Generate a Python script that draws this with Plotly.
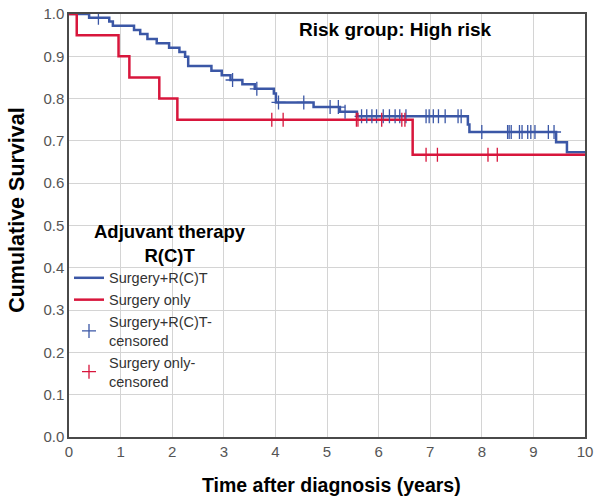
import numpy as np
import plotly.graph_objects as go

# Surgery + R(C)T : Kaplan-Meier step curve
rct_times = [0, 0.39, 0.78, 0.85, 1.26, 1.38, 1.52, 1.70, 1.94, 2.14, 2.25, 2.31, 2.76, 2.96,
             3.13, 3.36, 3.60, 3.97, 4.01, 4.74, 5.25, 5.58, 7.73, 7.76, 9.44, 9.65, 10.0]
rct_surv = [1.0, 0.991, 0.982, 0.972, 0.962, 0.953, 0.941, 0.931, 0.920, 0.910, 0.899, 0.877,
            0.866, 0.855, 0.844, 0.834, 0.823, 0.812, 0.791, 0.780, 0.769, 0.758, 0.739, 0.721,
            0.697, 0.673, 0.673]
rct_censor = [0.57, 3.17, 3.64, 4.06, 4.55, 5.06, 5.22, 5.35, 5.67, 5.77, 5.87, 5.96, 6.09, 6.21,
              6.32, 6.41, 6.53, 6.92, 6.98, 7.06, 7.16, 7.29, 7.54, 7.60, 8.00, 8.50, 8.53, 8.57,
              8.73, 8.78, 8.89, 8.95, 9.03, 9.29, 9.40]

# Surgery only
so_times = [0, 0.15, 0.96, 1.17, 1.75, 2.10, 6.66, 10.0]
so_surv = [1.0, 0.95, 0.90, 0.85, 0.80, 0.75, 0.667, 0.667]
so_censor = [3.93, 4.15, 5.57, 5.60, 6.06, 6.45, 6.51, 6.92, 7.14, 8.12, 8.30]

x_ticks = list(range(0, 11))
y_ticks = [round(i * 0.1, 1) for i in range(0, 11)]

BLUE = "#3b57a6"
RED = "#d8163c"


def surv_at(times, surv, t):
    idx = np.searchsorted(np.array(times), t, side="right") - 1
    return [surv[i] for i in idx]


fig = go.Figure()
fig.add_trace(go.Scatter(x=rct_times, y=rct_surv, mode="lines", line_shape="hv",
                         line=dict(color=BLUE, width=2.5), name="Surgery+R(C)T"))
fig.add_trace(go.Scatter(x=so_times, y=so_surv, mode="lines", line_shape="hv",
                         line=dict(color=RED, width=2.5), name="Surgery only"))
fig.add_trace(go.Scatter(x=rct_censor, y=surv_at(rct_times, rct_surv, rct_censor), mode="markers",
                         marker=dict(symbol="cross-thin", size=10, line=dict(color=BLUE, width=1.3)),
                         name="Surgery+R(C)T-<br>censored"))
fig.add_trace(go.Scatter(x=so_censor, y=surv_at(so_times, so_surv, so_censor), mode="markers",
                         marker=dict(symbol="cross-thin", size=10, line=dict(color=RED, width=1.3)),
                         name="Surgery only-<br>censored"))

FONT = "Liberation Sans, Arial, sans-serif"
fig.update_layout(
    width=595, height=499,
    margin=dict(l=69, r=10, t=14, b=62, autoexpand=False),
    paper_bgcolor="white", plot_bgcolor="white",
    font=dict(family=FONT, color="#333333", size=15),
    xaxis=dict(range=[0, 10], tickvals=x_ticks, ticktext=[str(v) for v in x_ticks],
               showgrid=True, gridcolor="#d4d4d4", gridwidth=1,
               showline=True, linecolor="#4a4a4a", linewidth=1.5, mirror=True,
               ticks="", zeroline=False, tickfont=dict(size=15, color="#555555"),
               automargin=False),
    yaxis=dict(range=[0, 1], tickvals=y_ticks, ticktext=[f"{v:.1f}" for v in y_ticks],
               showgrid=True, gridcolor="#d4d4d4", gridwidth=1,
               showline=True, linecolor="#4a4a4a", linewidth=1.5, mirror=True,
               ticks="", zeroline=False, tickfont=dict(size=15, color="#555555"),
               automargin=False),
    legend=dict(x=0.0, y=0.414, xanchor="left", yanchor="top",
                bgcolor="rgba(0,0,0,0)", font=dict(size=14.5, color="#333333"),
                tracegroupgap=0, itemwidth=30),
    annotations=[
        dict(text="<b>Risk group: High risk</b>", xref="paper", yref="paper",
             x=0.632, y=0.992, xanchor="center", yanchor="top", showarrow=False,
             font=dict(size=19, color="black")),
        dict(text="<b>Adjuvant therapy<br>R(C)T</b>", xref="paper", yref="paper",
             x=0.195, y=0.515, xanchor="center", yanchor="top", showarrow=False,
             align="center", font=dict(size=18.5, color="black")),
        dict(text="<b>Time after diagnosis (years)</b>", xref="paper", yref="paper",
             x=0.509, y=-0.1135, xanchor="center", yanchor="middle", showarrow=False,
             font=dict(size=19.5, color="black")),
        dict(text="<b>Cumulative Survival</b>", xref="paper", yref="paper",
             x=-0.1, y=0.538, xanchor="center", yanchor="middle", showarrow=False,
             textangle=-90, font=dict(size=21.5, color="black")),
    ],
)

fig.write_html("out.html", post_script="document.body.style.margin='0';",
               config={"displayModeBar": False})
